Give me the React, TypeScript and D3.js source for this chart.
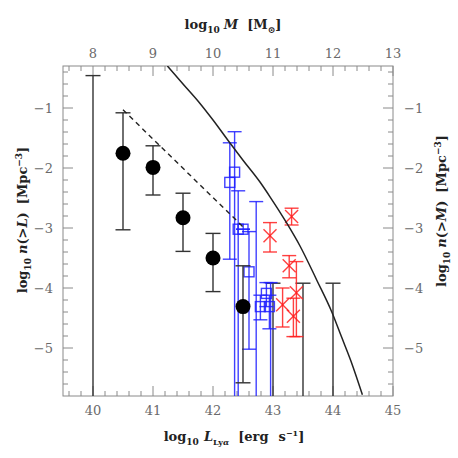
import React from 'react';
import * as d3 from 'd3';

// black filled circles: log L, log n, error top, error bottom
const circL = [40.5, 41.0, 41.5, 42.0, 42.5];
const circN = [-1.755, -1.99, -2.83, -3.5, -4.31];
const circHi = [-1.08, -1.63, -2.42, -3.09, -3.63];
const circLo = [-3.03, -2.45, -3.39, -4.06, -5.58];

// black bars without points (run to the bottom)
const limL = [40.0, 43.0, 43.5, 44.0];
const limHi = [-0.46, -3.92, -3.92, -3.92];

// blue open squares (null = bar only)
const blueL = [42.36, 42.28, 42.42, 42.5, 42.6, 42.72, 42.89, 42.79, 42.94, 42.96];
const blueN = [-2.07, -2.24, -3.02, -3.02, -3.73, null, -4.09, -4.31, -4.31, null];
const blueHi = [-1.395, -1.58, -2.38, -3.02, -3.06, -2.56, -3.91, -4.12, -4.12, -3.91];
const blueLo = [-5.8, -3.52, -5.8, -3.02, -5.02, -5.8, -4.31, -4.53, -4.68, -5.8];

// red crosses
const redL = [43.31, 42.95, 43.27, 43.39, 43.16, 43.34];
const redN = [-2.81, -3.13, -3.63, -4.08, -4.28, -4.47];
const redHi = [-2.67, -2.91, -3.46, -3.56, -4.0, -4.17];
const redLo = [-2.95, -3.4, -3.83, -4.81, -4.65, -4.81];

// dashed line
const dashL = [40.5, 42.5];
const dashN = [-1.03, -2.98];

// solid model curve
const curveL = [41.24, 41.5, 41.78, 42.0, 42.28, 42.5, 42.78, 42.95, 43.23, 43.45, 43.73, 43.98, 44.14, 44.3, 44.49];
const curveN = [-0.3, -0.6, -0.92, -1.2, -1.58, -1.87, -2.23, -2.48, -2.92, -3.3, -3.87, -4.4, -4.81, -5.22, -5.78];

const xTicks = [40, 41, 42, 43, 44, 45];
const mTicks = [8, 9, 10, 11, 12, 13];
const yTicks = [-1, -2, -3, -4, -5];

const W = 458;
const H = 458;
const left = 63, top = 66, size = 330;

const App = () => {
  const x = d3.scaleLinear().domain([39.5, 45]).range([left, left + size]);
  const xm = d3.scaleLinear().domain([7.5, 13]).range([left, left + size]);
  const y = d3.scaleLinear().domain([-0.3, -5.8]).range([top, top + size]);
  const bottom = top + size;
  const right = left + size;

  const minorX = d3.range(39.6, 45.0, 0.2).filter((v) => Math.abs(v - Math.round(v)) > 0.05);
  const minorY = d3.range(-0.4, -5.8, -0.2).filter((v) => Math.abs(v - Math.round(v)) > 0.05);

  const line = d3.line<number>().x((d, i) => x(curveL[i])).y((d, i) => y(curveN[i])).curve(d3.curveMonotoneX);
  const dash = d3.line<number>().x((d, i) => x(dashL[i])).y((d, i) => y(dashN[i]));

  const axisCol = '#8a8a8a';
  const labCol = '#6a6a6a';
  const tickFont = { fontFamily: 'DejaVu Serif', fontSize: 13, fill: labCol };
  const titleFont = { fontFamily: 'DejaVu Serif', fontSize: 13, fontWeight: 'bold' as const, fill: '#222' };

  const errBar = (cx: number, hi: number, lo: number, col: string, cap: number, key: string, capLo = true) => (
    <g key={key} stroke={col} strokeWidth={1.4}>
      <line x1={x(cx)} x2={x(cx)} y1={y(hi)} y2={y(lo)} />
      <line x1={x(cx) - cap} x2={x(cx) + cap} y1={y(hi)} y2={y(hi)} />
      {capLo && <line x1={x(cx) - cap} x2={x(cx) + cap} y1={y(lo)} y2={y(lo)} />}
    </g>
  );

  return (
    <svg width={W} height={H} style={{ position: 'absolute', left: 0, top: 0, background: '#fff' }}>
      <defs>
        <clipPath id="plot">
          <rect x={left} y={top} width={size} height={size} />
        </clipPath>
      </defs>

      {/* ticks */}
      <g stroke={axisCol} strokeWidth={1}>
        {xTicks.map((t) => (
          <line key={'xt' + t} x1={x(t)} x2={x(t)} y1={bottom} y2={bottom - 10} />
        ))}
        {mTicks.map((t) => (
          <line key={'mt' + t} x1={xm(t)} x2={xm(t)} y1={top} y2={top + 10} />
        ))}
        {minorX.map((t) => (
          <g key={'mx' + t}>
            <line x1={x(t)} x2={x(t)} y1={bottom} y2={bottom - 5} />
            <line x1={x(t)} x2={x(t)} y1={top} y2={top + 5} />
          </g>
        ))}
        {yTicks.map((t) => (
          <g key={'yt' + t}>
            <line x1={left} x2={left + 10} y1={y(t)} y2={y(t)} />
            <line x1={right} x2={right - 10} y1={y(t)} y2={y(t)} />
          </g>
        ))}
        {minorY.map((t) => (
          <g key={'my' + t}>
            <line x1={left} x2={left + 5} y1={y(t)} y2={y(t)} />
            <line x1={right} x2={right - 5} y1={y(t)} y2={y(t)} />
          </g>
        ))}
        <rect x={left} y={top} width={size} height={size} fill="none" />
      </g>

      {/* tick labels */}
      {xTicks.map((t) => (
        <text key={'xl' + t} x={x(t)} y={bottom + 19} textAnchor="middle" style={tickFont}>{t}</text>
      ))}
      {mTicks.map((t) => (
        <text key={'ml' + t} x={xm(t)} y={top - 8} textAnchor="middle" style={tickFont}>{t}</text>
      ))}
      {yTicks.map((t) => (
        <g key={'yl' + t}>
          <text x={left - 10} y={y(t) + 5} textAnchor="end" style={tickFont}>{'\u2212' + Math.abs(t)}</text>
          <text x={right + 11} y={y(t) + 5} textAnchor="start" style={tickFont}>{'\u2212' + Math.abs(t)}</text>
        </g>
      ))}

      {/* axis titles */}
      <text x={233} y={29} textAnchor="middle" style={titleFont}>
        log<tspan fontSize={9} dy={4}>10</tspan>
        <tspan dy={-4} dx={4} fontStyle="italic">M</tspan>
        <tspan dx={9}>[M</tspan>
        <tspan fontSize={9} dy={4}>{'\u2299'}</tspan>
        <tspan dy={-4}>]</tspan>
      </text>
      <text x={234} y={441} textAnchor="middle" style={titleFont}>
        log<tspan fontSize={9} dy={4}>10</tspan>
        <tspan dy={-4} dx={5} fontStyle="italic">L</tspan>
        <tspan fontSize={8} dy={4}>Ly<tspan fontStyle="italic">α</tspan></tspan>
        <tspan dy={-4} dx={9}>[erg</tspan>
        <tspan dx={10}>s</tspan>
        <tspan fontSize={8} dy={-5}>−1</tspan>
        <tspan dy={5}>]</tspan>
      </text>
      <text transform={`translate(27,${220}) rotate(-90)`} textAnchor="middle" style={titleFont}>
        log<tspan fontSize={9} dy={4}>10</tspan>
        <tspan dy={-4} dx={4} fontStyle="italic">n</tspan>
        <tspan>{'(>'}</tspan>
        <tspan fontStyle="italic">L</tspan>
        <tspan>)</tspan>
        <tspan dx={8}>[Mpc</tspan>
        <tspan fontSize={9} dy={-5}>−3</tspan>
        <tspan dy={5}>]</tspan>
      </text>
      <text transform={`translate(446,${211}) rotate(-90)`} textAnchor="middle" style={titleFont}>
        log<tspan fontSize={9} dy={4}>10</tspan>
        <tspan dy={-4} dx={4} fontStyle="italic">n</tspan>
        <tspan>{'(>'}</tspan>
        <tspan fontStyle="italic">M</tspan>
        <tspan>)</tspan>
        <tspan dx={8}>[Mpc</tspan>
        <tspan fontSize={9} dy={-5}>−3</tspan>
        <tspan dy={5}>]</tspan>
      </text>

      <g clipPath="url(#plot)">
        {/* black limits */}
        {limL.map((l, i) => errBar(l, limHi[i], -5.8, '#333', 7.5, 'lim' + i, false))}

        {/* blue squares */}
        {blueL.map((l, i) => errBar(l, blueHi[i], blueLo[i], 'rgba(30,30,255,0.85)', 7, 'be' + i, blueLo[i] > -5.79))}
        {blueL.map((l, i) =>
          blueN[i] === null ? null : (
            <rect key={'bs' + i} x={x(l) - 5} y={y(blueN[i] as number) - 5} width={10} height={10}
              fill="none" stroke="rgba(30,30,255,0.85)" strokeWidth={1.4} />
          )
        )}

        {/* red crosses */}
        {redL.map((l, i) => errBar(l, redHi[i], redLo[i], 'rgba(255,30,30,0.85)', 7, 're' + i))}
        {redL.map((l, i) => (
          <g key={'rx' + i} stroke="rgba(255,30,30,0.85)" strokeWidth={1.4}>
            <line x1={x(l) - 6.5} x2={x(l) + 6.5} y1={y(redN[i]) - 6.5} y2={y(redN[i]) + 6.5} />
            <line x1={x(l) - 6.5} x2={x(l) + 6.5} y1={y(redN[i]) + 6.5} y2={y(redN[i]) - 6.5} />
          </g>
        ))}

        {/* black circles */}
        {circL.map((l, i) => errBar(l, circHi[i], circLo[i], '#333', 7.5, 'ce' + i))}
        {circL.map((l, i) => (
          <circle key={'c' + i} cx={x(l)} cy={y(circN[i])} r={7.5} fill="#000" />
        ))}

        {/* lines */}
        <path d={dash(dashL) || ''} fill="none" stroke="#222" strokeWidth={1.4} strokeDasharray="5,4" />
        <path d={line(curveL) || ''} fill="none" stroke="#222" strokeWidth={1.5} />
      </g>
    </svg>
  );
};

export default App;
